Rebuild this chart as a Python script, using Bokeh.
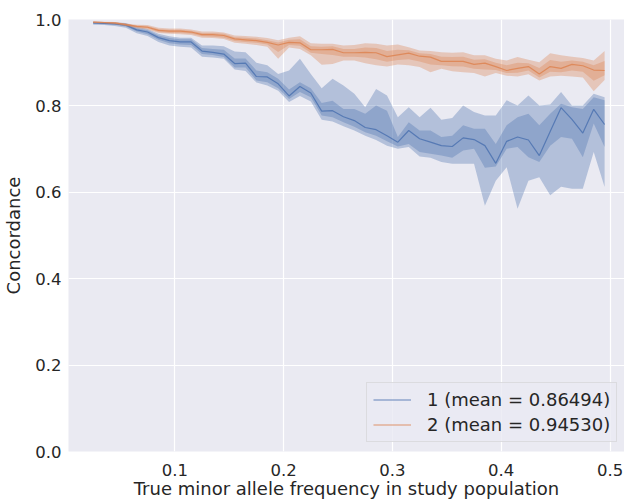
from bokeh.plotting import figure
from bokeh.models import Range1d, FixedTicker, Legend, LegendItem, NumeralTickFormatter
from bokeh.embed import file_html
from bokeh.resources import INLINE

maf = [0.025, 0.035, 0.045, 0.055, 0.065, 0.075, 0.085, 0.095, 0.105, 0.115,
       0.125, 0.135, 0.145, 0.155, 0.165, 0.175, 0.185, 0.195, 0.205, 0.215,
       0.225, 0.235, 0.245, 0.255, 0.265, 0.275, 0.285, 0.295, 0.305, 0.315,
       0.325, 0.335, 0.345, 0.355, 0.365, 0.375, 0.385, 0.395, 0.405, 0.415,
       0.425, 0.435, 0.445, 0.455, 0.465, 0.475, 0.485, 0.495]

# Series 1 (blue)
s1_mean = [0.992, 0.991, 0.990, 0.987, 0.976, 0.971, 0.958, 0.951, 0.948, 0.948,
           0.927, 0.924, 0.920, 0.898, 0.899, 0.868, 0.867, 0.851, 0.823, 0.845,
           0.830, 0.788, 0.789, 0.775, 0.766, 0.750, 0.745, 0.731, 0.716, 0.743,
           0.724, 0.716, 0.708, 0.706, 0.726, 0.722, 0.708, 0.667, 0.718, 0.728,
           0.721, 0.685, 0.741, 0.796, 0.769, 0.737, 0.792, 0.757]
s1_in_lo = [0.990, 0.989, 0.988, 0.984, 0.972, 0.966, 0.953, 0.945, 0.942, 0.941,
            0.920, 0.918, 0.913, 0.889, 0.889, 0.859, 0.855, 0.841, 0.816, 0.832,
            0.820, 0.778, 0.774, 0.762, 0.752, 0.739, 0.731, 0.718, 0.706, 0.712,
            0.693, 0.689, 0.685, 0.680, 0.697, 0.701, 0.657, 0.660, 0.701, 0.705,
            0.681, 0.670, 0.708, 0.728, 0.724, 0.681, 0.759, 0.705]
s1_in_hi = [0.994, 0.993, 0.992, 0.990, 0.980, 0.975, 0.963, 0.957, 0.954, 0.954,
            0.934, 0.932, 0.930, 0.910, 0.910, 0.882, 0.878, 0.863, 0.838, 0.855,
            0.841, 0.807, 0.812, 0.793, 0.793, 0.782, 0.801, 0.789, 0.728, 0.762,
            0.743, 0.743, 0.728, 0.731, 0.755, 0.747, 0.747, 0.712, 0.755, 0.774,
            0.782, 0.755, 0.782, 0.805, 0.797, 0.793, 0.820, 0.813]
s1_out_lo = [0.988, 0.987, 0.985, 0.981, 0.968, 0.962, 0.948, 0.940, 0.937, 0.935,
             0.914, 0.912, 0.909, 0.884, 0.881, 0.854, 0.847, 0.835, 0.809, 0.823,
             0.810, 0.768, 0.764, 0.753, 0.743, 0.731, 0.721, 0.708, 0.701, 0.705,
             0.683, 0.680, 0.670, 0.666, 0.666, 0.666, 0.569, 0.627, 0.658, 0.562,
             0.627, 0.635, 0.593, 0.613, 0.608, 0.608, 0.693, 0.612]
s1_out_hi = [0.995, 0.994, 0.993, 0.992, 0.983, 0.978, 0.967, 0.961, 0.958, 0.958,
             0.940, 0.940, 0.938, 0.926, 0.924, 0.900, 0.894, 0.874, 0.882, 0.909,
             0.874, 0.841, 0.863, 0.847, 0.828, 0.797, 0.839, 0.824, 0.774, 0.797,
             0.774, 0.796, 0.768, 0.772, 0.801, 0.786, 0.778, 0.778, 0.813, 0.801,
             0.824, 0.801, 0.803, 0.832, 0.801, 0.801, 0.828, 0.820]

# Series 2 (orange)
s2_mean = [0.994, 0.993, 0.992, 0.988, 0.984, 0.982, 0.975, 0.973, 0.973, 0.971,
           0.965, 0.965, 0.963, 0.955, 0.953, 0.951, 0.947, 0.941, 0.947, 0.946,
           0.930, 0.930, 0.931, 0.923, 0.923, 0.924, 0.923, 0.914, 0.918, 0.922,
           0.915, 0.913, 0.903, 0.903, 0.903, 0.896, 0.899, 0.891, 0.882, 0.887,
           0.891, 0.874, 0.891, 0.887, 0.896, 0.893, 0.883, 0.882]
s2_in_lo = [0.993, 0.992, 0.990, 0.986, 0.982, 0.979, 0.971, 0.969, 0.969, 0.967,
            0.961, 0.960, 0.958, 0.950, 0.948, 0.946, 0.942, 0.925, 0.941, 0.939,
            0.923, 0.920, 0.918, 0.914, 0.914, 0.912, 0.908, 0.902, 0.906, 0.908,
            0.903, 0.896, 0.894, 0.892, 0.891, 0.886, 0.884, 0.883, 0.876, 0.877,
            0.882, 0.866, 0.879, 0.878, 0.882, 0.879, 0.858, 0.871]
s2_in_hi = [0.995, 0.994, 0.993, 0.990, 0.986, 0.985, 0.978, 0.976, 0.976, 0.974,
            0.969, 0.969, 0.967, 0.959, 0.958, 0.956, 0.952, 0.947, 0.953, 0.954,
            0.938, 0.937, 0.938, 0.932, 0.932, 0.935, 0.934, 0.927, 0.930, 0.929,
            0.922, 0.920, 0.914, 0.913, 0.914, 0.907, 0.908, 0.900, 0.894, 0.900,
            0.899, 0.888, 0.906, 0.902, 0.905, 0.902, 0.894, 0.904]
s2_out_lo = [0.992, 0.991, 0.989, 0.985, 0.980, 0.977, 0.969, 0.967, 0.966, 0.964,
             0.958, 0.957, 0.955, 0.946, 0.944, 0.941, 0.937, 0.909, 0.935, 0.932,
             0.917, 0.895, 0.897, 0.905, 0.905, 0.899, 0.894, 0.891, 0.896, 0.894,
             0.890, 0.878, 0.886, 0.880, 0.878, 0.876, 0.868, 0.876, 0.870, 0.868,
             0.873, 0.859, 0.868, 0.870, 0.868, 0.866, 0.834, 0.860]
s2_out_hi = [0.996, 0.995, 0.994, 0.991, 0.988, 0.987, 0.981, 0.979, 0.979, 0.977,
             0.972, 0.972, 0.970, 0.963, 0.962, 0.960, 0.957, 0.952, 0.958, 0.961,
             0.945, 0.944, 0.944, 0.940, 0.941, 0.945, 0.944, 0.940, 0.942, 0.936,
             0.928, 0.927, 0.924, 0.923, 0.924, 0.917, 0.917, 0.909, 0.905, 0.913,
             0.907, 0.901, 0.922, 0.917, 0.914, 0.911, 0.905, 0.927]

labels = ["1 (mean = 0.86494)", "2 (mean = 0.94530)"]
y_ticks = [0.0, 0.2, 0.4, 0.6, 0.8, 1.0]
x_ticks = [0.1, 0.2, 0.3, 0.4, 0.5]
x_title = "True minor allele frequency in study population"
y_title = "Concordance"

BLUE = "#4C72B0"
ORANGE = "#DD8452"
FONT = "DejaVu Sans"
TXT = "#262626"

p = figure(frame_width=556, frame_height=432, output_backend="svg", toolbar_location=None,
           x_range=Range1d(0.0023, 0.5133), y_range=Range1d(0.0, 1.0),
           min_border_left=61, min_border_right=0, min_border_top=19,
           min_border_bottom=0)

p.background_fill_color = "#EAEAF2"
p.border_fill_color = "white"
p.outline_line_color = None

for ax in (p.xaxis, p.yaxis):
    ax.axis_line_color = None
    ax.major_tick_line_color = None
    ax.minor_tick_line_color = None
    ax.major_tick_out = 0
    ax.major_tick_in = 0
    ax.minor_tick_out = 0
    ax.minor_tick_in = 0
    ax.major_label_text_font = FONT
    ax.major_label_text_font_size = "16.5px"
    ax.major_label_text_color = TXT
    ax.axis_label_text_font = FONT
    ax.axis_label_text_font_size = "18px"
    ax.axis_label_text_font_style = "normal"
    ax.axis_label_text_color = TXT
    ax.formatter = NumeralTickFormatter(format="0.0")

p.xaxis.ticker = FixedTicker(ticks=x_ticks)
p.yaxis.ticker = FixedTicker(ticks=y_ticks)
p.xaxis.major_label_standoff = 12
p.yaxis.major_label_standoff = 7
p.xaxis.axis_label = x_title
p.xaxis.axis_label_standoff = -1
p.yaxis.axis_label = y_title
p.yaxis.axis_label_standoff = 8

p.grid.grid_line_color = "white"
p.grid.grid_line_width = 1.2

A = 0.35
p.varea(x=maf, y1=s1_out_lo, y2=s1_out_hi, fill_color=BLUE, fill_alpha=A)
p.varea(x=maf, y1=s1_in_lo, y2=s1_in_hi, fill_color=BLUE, fill_alpha=A)
r1 = p.line(maf, s1_mean, line_color=BLUE, line_width=1.2, line_alpha=0.85)

p.varea(x=maf, y1=s2_out_lo, y2=s2_out_hi, fill_color=ORANGE, fill_alpha=A)
p.varea(x=maf, y1=s2_in_lo, y2=s2_in_hi, fill_color=ORANGE, fill_alpha=A)
r2 = p.line(maf, s2_mean, line_color=ORANGE, line_width=1.2, line_alpha=0.85)

legend = Legend(items=[LegendItem(label=labels[0], renderers=[r1]),
                       LegendItem(label=labels[1], renderers=[r2])],
                location=(298, 9))
legend.label_text_font = FONT
legend.label_text_font_size = "18px"
legend.label_text_color = TXT
legend.glyph_width = 38
legend.glyph_height = 21
legend.label_height = 21
legend.label_standoff = 16
legend.spacing = 4
legend.padding = 6
legend.margin = 0
legend.background_fill_color = "#EAEAF2"
legend.background_fill_alpha = 0.8
legend.border_line_color = "#CCCCCC"
legend.border_line_width = 1
p.add_layout(legend, "center")

open("out.html", "w").write(file_html(p, INLINE))
